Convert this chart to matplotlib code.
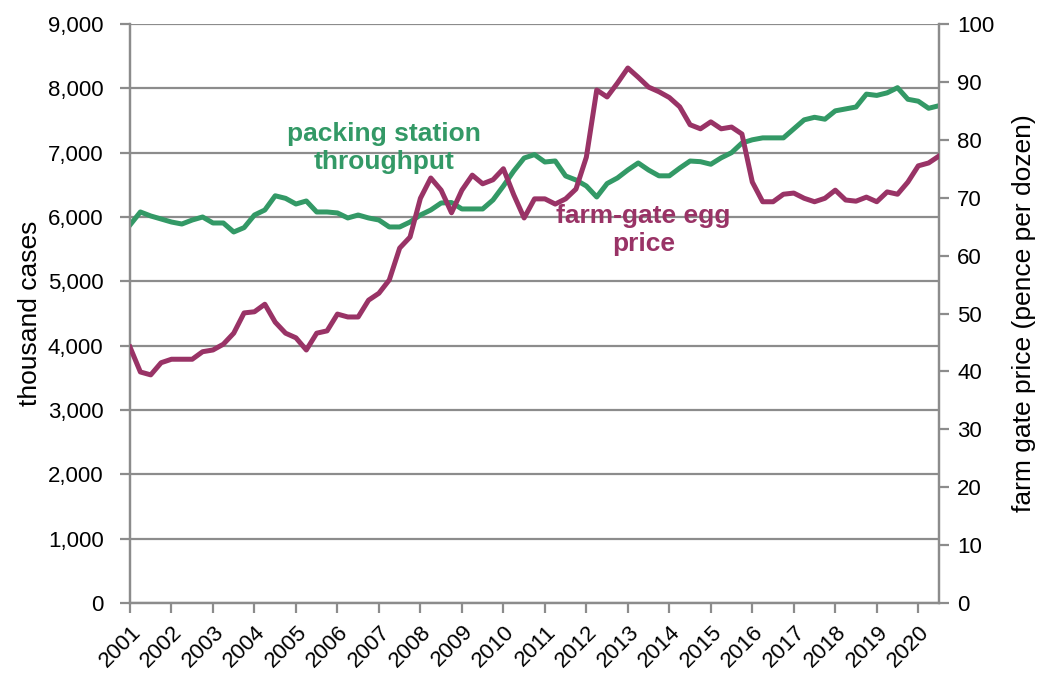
import matplotlib
matplotlib.use("Agg")
import matplotlib.pyplot as plt
import matplotlib.transforms as mtransforms
import numpy as np

# Quarterly data, 2001 Q1 .. 2020 Q3
years = [str(y) for y in range(2001, 2021)]

throughput = [  # thousand cases (left axis)
    5876, 6078, 6016, 5969, 5922, 5891, 5953, 6000, 5907, 5907,
    5767, 5835, 6031, 6109, 6330, 6290, 6202, 6249, 6078, 6078,
    6063, 5985, 6031, 5985, 5953, 5845, 5845, 5922, 6031, 6109,
    6218, 6225, 6125, 6125, 6125, 6265, 6482, 6715, 6917, 6970,
    6855, 6871, 6638, 6575, 6482, 6311, 6520, 6607, 6731, 6840,
    6730, 6640, 6640, 6760, 6870, 6860, 6820, 6920, 7000, 7150,
    7200, 7230, 7230, 7230, 7370, 7510, 7550, 7520, 7650, 7680,
    7710, 7910, 7890, 7930, 8010, 7830, 7800, 7690, 7730,
]

egg_price = [  # pence per dozen (right axis)
    44.2, 39.9, 39.4, 41.5, 42.1, 42.1, 42.1, 43.4, 43.7, 44.7,
    46.6, 50.1, 50.3, 51.6, 48.5, 46.6, 45.8, 43.7, 46.6, 47.0,
    49.9, 49.4, 49.4, 52.3, 53.5, 55.8, 61.3, 63.2, 69.9, 73.4,
    71.3, 67.4, 71.3, 73.9, 72.4, 73.1, 75.0, 70.5, 66.5, 69.8,
    69.8, 68.9, 69.8, 71.5, 77.0, 88.6, 87.4, 89.8, 92.4, 90.8,
    89.1, 88.3, 87.3, 85.7, 82.6, 81.9, 83.1, 81.9, 82.2, 81.0,
    72.7, 69.3, 69.3, 70.6, 70.8, 69.9, 69.3, 69.9, 71.3, 69.6,
    69.4, 70.1, 69.3, 71.0, 70.6, 72.7, 75.5, 76.0, 77.2,
]

GREEN = "#339966"
PURPLE = "#993366"
GRID = "#8c8c8c"

plt.rcParams['font.family'] = ['Liberation Sans', 'DejaVu Sans']

fig = plt.figure(figsize=(10.43, 6.77), dpi=100)
ax = fig.add_axes([130/1043, 1-603/677, (939-130)/1043, (603-24)/677])
ax2 = ax.twinx()

x = np.arange(len(throughput))
ax.plot(x, throughput, color=GREEN, lw=3.6, solid_joinstyle='round', zorder=3)
ax2.plot(x, egg_price, color=PURPLE, lw=3.6, solid_joinstyle='round', zorder=3)

ax.set_xlim(0, len(throughput) - 1)
ax.set_ylim(0, 9000)
ax2.set_ylim(0, 100)
ax.set_yticks(np.arange(0, 9001, 1000))
ax.set_yticklabels([f"{v:,}" for v in range(0, 9001, 1000)])
ax2.set_yticks(np.arange(0, 101, 10))

ax.set_xticks(np.arange(0, len(throughput), 4))
ax.set_xticklabels(years, rotation=45, ha='right', va='center',
                   rotation_mode='anchor')

ax.grid(axis='y', color=GRID, lw=1.6, zorder=0)
ax.set_axisbelow(True)

for a in (ax, ax2):
    for s in a.spines.values():
        s.set_color(GRID)
        s.set_linewidth(1.6)
    a.spines['top'].set_visible(False)
    a.tick_params(axis='both', colors=GRID, width=1.6, length=7, labelsize=16,
                  labelcolor='black')
ax.tick_params(axis='y', pad=12)
ax2.tick_params(axis='y', pad=6)
ax.tick_params(axis='x', pad=10, labelsize=16)

offset = mtransforms.ScaledTranslation(8/100, -2/100, fig.dpi_scale_trans)
for lbl in ax.get_xticklabels():
    lbl.set_transform(lbl.get_transform() + offset)

ax.set_ylabel("thousand cases", fontsize=19, labelpad=4)
ax2.set_ylabel("farm gate price (pence per dozen)", fontsize=19, labelpad=13)

ax.text(24.5, 7070, "packing station\nthroughput", color=GREEN,
        fontsize=19, fontweight='bold', ha='center', va='center',
        linespacing=1.2)
ax.text(49.5, 5800, "farm-gate egg\nprice", color=PURPLE,
        fontsize=19, fontweight='bold', ha='center', va='center',
        linespacing=1.2)

fig.savefig("out.png", dpi=100)
